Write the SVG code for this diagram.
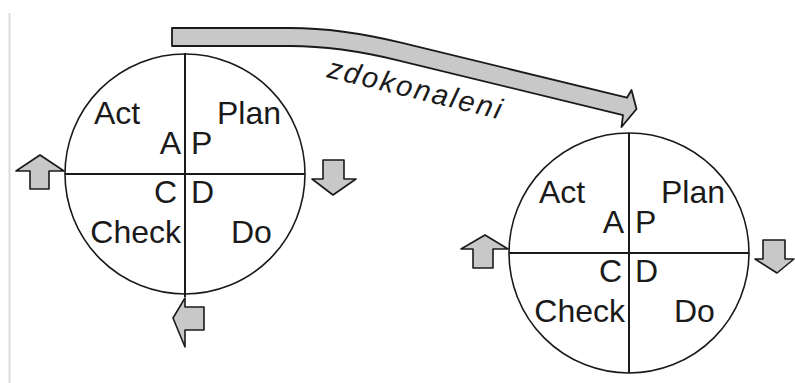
<svg xmlns="http://www.w3.org/2000/svg" width="795" height="383" viewBox="0 0 795 383">
  <style>
    .ring { fill: none; stroke: #1a1a1a; stroke-width: 1.6; }
    .axis { stroke: #1a1a1a; stroke-width: 2; }
    .lbl { font-family: "Liberation Sans", Arial, sans-serif; font-size: 32px; fill: #1a1a1a; }
    .end { text-anchor: end; }
    .turn { fill: #c8c8c8; stroke: #1a1a1a; stroke-width: 1.6; stroke-linejoin: round; }
    .flow { fill: #c8c8c8; stroke: #1a1a1a; stroke-width: 1.8; stroke-linejoin: round; }
    .note { font-family: "Liberation Sans", Arial, sans-serif; font-size: 29px; font-style: italic; fill: #1a1a1a; }
  </style>

  <rect width="795" height="383" fill="#ffffff"/>
  <!-- margin rule on the left -->
  <line x1="9.5" y1="13" x2="9.5" y2="383" stroke="#dcdcdc" stroke-width="2"/>

  <!-- first PDCA wheel -->
  <g id="cycle-1" transform="translate(185 174)">
    <circle class="ring" cx="0" cy="0" r="120"/>
    <line class="axis" x1="0" y1="-121" x2="0" y2="123"/>
    <line class="axis" x1="-120" y1="0" x2="120" y2="0"/>
    <text class="lbl" x="-91" y="-50">Act</text>
    <text class="lbl" x="32" y="-50">Plan</text>
    <text class="lbl end" x="-4" y="-20">A</text>
    <text class="lbl" x="6" y="-20">P</text>
    <text class="lbl end" x="-8" y="29">C</text>
    <text class="lbl" x="6" y="29">D</text>
    <text class="lbl end" x="-4" y="69">Check</text>
    <text class="lbl" x="46" y="69">Do</text>
    <!-- rotation markers -->
    <polygon class="turn" points="-145,-19 -121,-3 -136,-3 -136,15 -155,15 -155,-3 -169,-3"/>
    <polygon class="turn" points="138,-14 159,-14 159,5 171,5 148,21 127,5 138,5"/>
    <polygon class="turn" points="-12,144 0,124 0,133 19,133 19,156 0,156 0,173"/>
  </g>

  <!-- second PDCA wheel -->
  <g id="cycle-2" transform="translate(629 253)">
    <circle class="ring" cx="0" cy="0" r="120"/>
    <line class="axis" x1="0" y1="-120" x2="0" y2="120"/>
    <line class="axis" x1="-120" y1="0" x2="120" y2="0"/>
    <text class="lbl" x="-90" y="-50">Act</text>
    <text class="lbl" x="32" y="-50">Plan</text>
    <text class="lbl end" x="-5" y="-20">A</text>
    <text class="lbl" x="6" y="-20">P</text>
    <text class="lbl end" x="-7" y="29">C</text>
    <text class="lbl" x="6" y="29">D</text>
    <text class="lbl end" x="-4" y="69">Check</text>
    <text class="lbl" x="45" y="69">Do</text>
    <polygon class="turn" points="-144,-18 -121,-4 -136,-4 -136,15 -156,15 -156,-4 -168,-4"/>
    <polygon class="turn" points="134,-13 156,-13 156,6 165,6 148,20 126,6 134,6"/>
  </g>

  <!-- improvement arrow between wheels -->
  <g id="connectors">
    <path class="flow" d="M172,28 L290,28 Q340.9,28 402.1,42.9 L627,97.7 L631.5,90 L636.5,109 L621.5,127 L623,115.1 L397.9,60.3 Q339.2,46 290,46 L172,46 Z"/>
    <text class="note" x="0" y="0" transform="translate(326 77) rotate(13.7)" textLength="178" lengthAdjust="spacing">zdokonaleni</text>
  </g>
</svg>
